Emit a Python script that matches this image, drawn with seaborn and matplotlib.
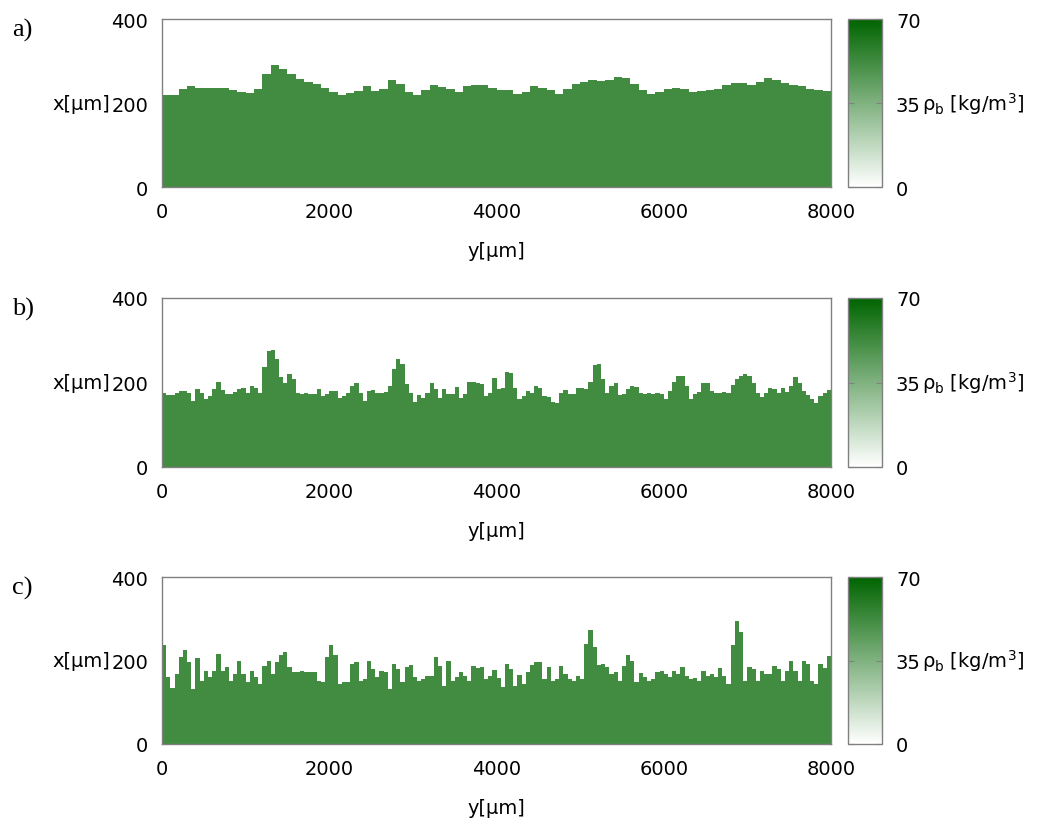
import numpy as np
import pandas as pd
import seaborn as sns
import matplotlib.pyplot as plt
from matplotlib.colors import LinearSegmentedColormap

# front height x [um] of the deposit
# a) one value per 100 um of y, b) and c) one value per 50 um
front_a = [219, 221, 235, 240, 237, 237, 237, 236, 232, 227, 224, 235, 271, 291, 283, 271,
           259, 251, 247, 237, 227, 219, 225, 229, 240, 229, 235,
           255, 247, 227, 219, 231, 245, 239, 235, 227, 240, 243, 243, 237, 232, 232, 223,
           227, 240, 237, 231, 223, 235, 247, 251, 255, 252, 255,
           263, 261, 247, 231, 223, 227, 235, 237, 235, 227, 229, 232, 235, 243, 248, 248,
           245, 251, 261, 255, 248, 245, 240, 235, 231, 229]

front_b = [177, 171, 171, 177, 181, 181, 177, 157, 185, 174, 161, 169, 185, 203, 182, 173,
           173, 178, 185, 189, 177, 192, 187, 174, 236, 275, 277, 256, 212, 200, 220, 208,
           177, 173, 174, 173, 173, 185, 169, 173, 181, 181, 165, 169, 177, 192, 200, 177,
           157, 181, 182, 177, 174, 179,
           192, 232, 256, 244, 196, 174, 155, 171, 165, 177, 200, 185, 165, 185, 173, 173,
           190, 165, 173, 203, 203, 200, 196, 169, 177, 211, 185, 189, 224, 222, 189, 161,
           169, 181, 174, 192, 189, 169, 166, 155, 153, 177, 182, 173, 173, 186, 186, 185,
           203, 242, 244, 208, 177, 192,
           198, 171, 173, 185, 192, 190, 174, 173, 177, 173, 177, 173, 161, 181, 203, 216,
           216, 192, 161, 173, 179, 198, 198, 181, 174, 177, 179, 174, 195, 208, 216, 220,
           216, 200, 174, 166, 177, 187, 185, 174, 187, 179, 192, 212, 200, 181, 171, 163,
           153, 169, 174, 182]

front_c = [236, 160, 134, 168, 209, 225, 196, 132, 206, 152, 177, 160, 176, 216, 176, 185,
           152, 168, 201, 168, 148, 174, 160, 145, 188, 198, 169, 196, 212, 220, 184, 172,
           172, 174, 172, 172, 172, 150, 148, 208, 236, 212, 145, 148, 148, 192, 196, 153,
           156, 198, 180, 160, 174, 172,
           132, 192, 180, 148, 184, 190, 160, 152, 156, 164, 164, 209, 188, 140, 198, 152,
           160, 172, 164, 152, 188, 182, 185, 156, 164, 178, 158, 136, 192, 180, 140, 166,
           144, 172, 190, 196, 196, 156, 184, 152, 156, 188, 169, 156, 152, 164, 156, 240,
           273, 232, 190, 193, 184, 168,
           172, 152, 188, 212, 200, 148, 170, 161, 150, 156, 172, 176, 168, 161, 174, 168,
           184, 164, 156, 158, 152, 176, 164, 168, 160, 182, 164, 145, 236, 294, 268, 152,
           184, 180, 152, 177, 169, 168, 188, 180, 153, 176, 198, 176, 153, 200, 193, 150,
           144, 193, 182, 210]

rho_deposit = 52  # kg/m^3 inside the deposit
panel_names = ['a)', 'b)', 'c)']
x_max = 400
y_max = 8000
dx = 2
xtick_vals = [0, 2000, 4000, 6000, 8000]
ytick_vals = [0, 200, 400]
cbar_ticks = [0, 35, 70]

plt.rcParams['font.family'] = ['DejaVu Sans']
plt.rcParams['mathtext.fontset'] = 'dejavusans'

cmap = LinearSegmentedColormap.from_list('white_green', ['#ffffff', '#006400'])


def density_map(front):
    dy = y_max / len(front)
    x = np.arange(dx / 2, x_max, dx)
    y = np.arange(dy / 2, y_max, dy)
    grid = np.where(x[:, None] < np.array(front)[None, :], rho_deposit, 0.0)
    return pd.DataFrame(grid, index=x, columns=y), dy


W, H = 1038, 820
fig = plt.figure(figsize=(W / 100, H / 100), dpi=100)
tops = [20, 299, 578]
bottoms = [188, 468, 745]

for front, name, top, bot in zip([front_a, front_b, front_c], panel_names, tops, bottoms):
    ax = fig.add_axes([162 / W, 1 - bot / H, 669 / W, (bot - top) / H])
    cax = fig.add_axes([848 / W, 1 - bot / H, 34 / W, (bot - top) / H])
    df, dy = density_map(front)
    sns.heatmap(df, ax=ax, cbar_ax=cax, cmap=cmap, vmin=0, vmax=70,
                xticklabels=False, yticklabels=False)
    ax.invert_yaxis()

    ax.set_xticks([v / dy for v in xtick_vals])
    ax.set_xticklabels([str(v) for v in xtick_vals])
    ax.set_yticks([v / dx for v in ytick_vals])
    ax.set_yticklabels([str(v) for v in ytick_vals], rotation=0)
    ax.tick_params(axis='both', length=0, labelsize=14)
    ax.tick_params(axis='x', pad=11)
    ax.tick_params(axis='y', pad=10)
    for s in ax.spines.values():
        s.set_visible(True)
        s.set_color('#808080')
        s.set_linewidth(1)

    ax.set_xlabel('y[μm]', fontsize=14, labelpad=14)
    ax.set_ylabel('x[μm]', fontsize=14, rotation=0, ha='right', va='center')
    ax.yaxis.set_label_coords((110 - 162) / 669, 0.5)

    cbar = ax.collections[0].colorbar
    cbar.set_ticks(cbar_ticks)
    cbar.set_ticklabels([str(v) for v in cbar_ticks])
    cbar.outline.set_edgecolor('#808080')
    cbar.outline.set_linewidth(1)
    cax.tick_params(direction='in', length=4, color='#808080', labelsize=14,
                    pad=10, left=True, right=True)
    cax.text(2.17, 0.5, r'ρ$_{\mathrm{b}}$ [kg/m$^{3}$]', transform=cax.transAxes,
             fontsize=14, va='center', ha='left')

    fig.text(12 / W, 1 - (top + 10) / H, name, fontsize=19, va='center', ha='left',
             family=['Liberation Serif', 'DejaVu Serif'])

fig.savefig('out.png', dpi=100)
